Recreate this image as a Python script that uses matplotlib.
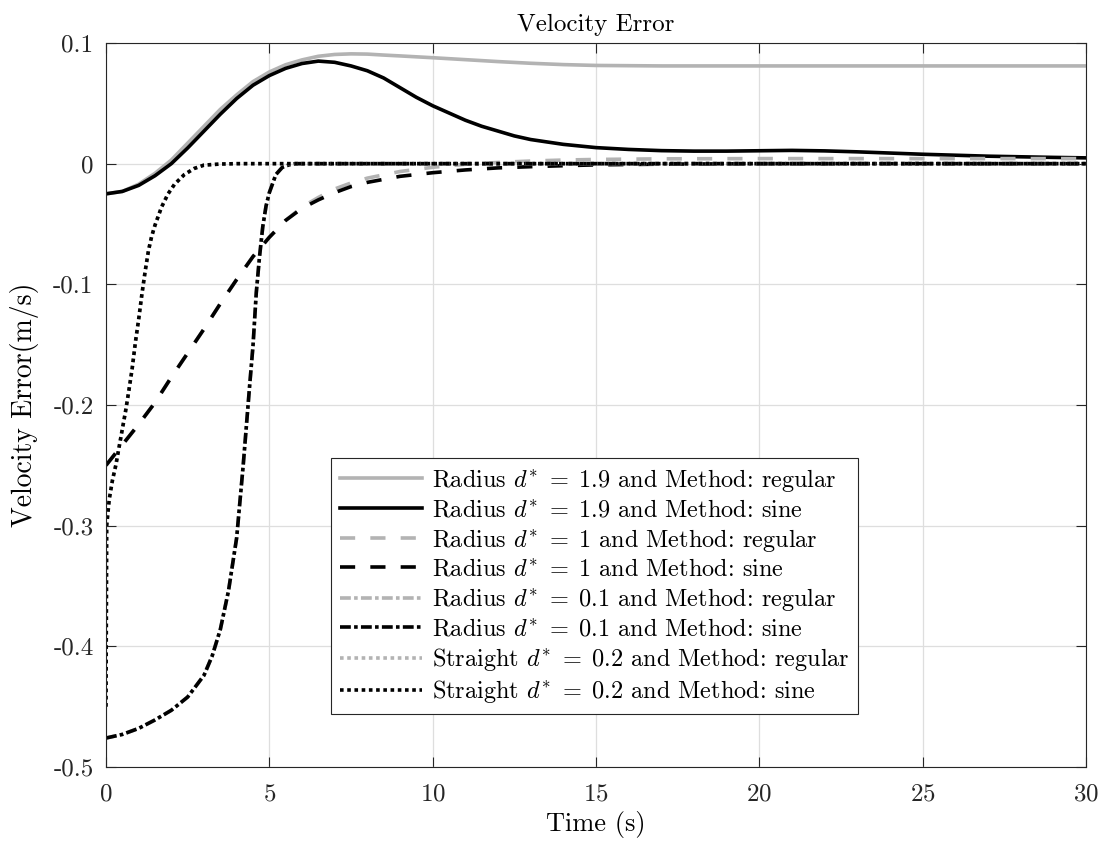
import numpy as np
import matplotlib
matplotlib.use("Agg")
import matplotlib.pyplot as plt

plt.rcParams['font.family'] = 'serif'
plt.rcParams['font.serif'] = ['cmr10']
plt.rcParams['mathtext.fontset'] = 'cm'
plt.rcParams['axes.unicode_minus'] = False
plt.rcParams['axes.formatter.use_mathtext'] = True

# values
t_r19 = [0, 0.5, 1, 1.5, 2, 2.5, 3, 3.5, 4, 4.5, 5, 5.5, 6, 6.5, 7, 7.5, 8, 8.5, 9,
         10, 11, 12, 13, 14, 15, 17, 20, 25, 30]
v_r19_regular = [-0.025, -0.023, -0.017, -0.008, 0.003, 0.017, 0.031, 0.045, 0.057, 0.068,
                 0.076, 0.082, 0.086, 0.089, 0.0905, 0.091, 0.0908, 0.0900, 0.0893,
                 0.0878, 0.0862, 0.0846, 0.0832, 0.0821, 0.0814, 0.0810, 0.0810, 0.0810, 0.0810]

t_r19s = [0, 0.5, 1, 1.5, 2, 2.5, 3, 3.5, 4, 4.5, 5, 5.5, 6, 6.5, 7, 7.5, 8, 8.5, 9, 9.5,
          10, 10.5, 11, 11.5, 12, 12.5, 13, 13.5, 14, 15, 16, 17, 18, 19, 20, 21, 22, 23,
          24, 25, 26, 27, 28, 29, 30]
v_r19_sine = [-0.025, -0.023, -0.018, -0.010, 0.000, 0.013, 0.027, 0.041, 0.054, 0.065,
              0.073, 0.079, 0.083, 0.085, 0.084, 0.081, 0.077, 0.071, 0.063, 0.055,
              0.048, 0.042, 0.036, 0.031, 0.027, 0.023, 0.020, 0.018, 0.016, 0.0133,
              0.0118, 0.0108, 0.0104, 0.0104, 0.0107, 0.0110, 0.0106, 0.0098, 0.0088,
              0.0078, 0.0070, 0.0062, 0.0057, 0.0052, 0.0048]

t_r1 = [0, 0.5, 1, 1.5, 2, 2.5, 3, 3.5, 4, 4.5, 5, 5.5, 6, 6.5, 7, 7.5, 8, 9, 10, 11,
        12, 13, 14, 15, 17, 20, 25, 30]
v_r1_regular = [-0.250, -0.233, -0.216, -0.198, -0.177, -0.157, -0.137, -0.116, -0.096,
                -0.077, -0.061, -0.047, -0.036, -0.028, -0.021, -0.016, -0.012, -0.0065,
                -0.003, -0.0005, 0.001, 0.0022, 0.003, 0.0035, 0.004, 0.0042, 0.0042, 0.0042]
v_r1_sine = [-0.250, -0.233, -0.216, -0.198, -0.177, -0.157, -0.137, -0.116, -0.096,
             -0.077, -0.061, -0.047, -0.037, -0.030, -0.024, -0.019, -0.0155, -0.0105,
             -0.0075, -0.0052, -0.0035, -0.0025, -0.0017, -0.0010, -0.0004, 0.0, 0.0, 0.0]

t_r01 = [0, 0.5, 1, 1.5, 2, 2.5, 3, 3.25, 3.5, 3.75, 4, 4.2, 4.4, 4.5, 4.6, 4.7, 4.8,
         4.9, 5.0, 5.2, 5.4, 5.6, 5.8, 6, 7, 10, 15, 20, 25, 30]
v_r01_regular = [-0.476, -0.473, -0.468, -0.461, -0.453, -0.442, -0.424, -0.408, -0.386,
                 -0.354, -0.310, -0.250, -0.183, -0.151, -0.107, -0.077, -0.052, -0.035,
                 -0.024, -0.009, -0.003, -0.001, 0.0, 0.0, 0.0, 0.0, 0.0, 0.0, 0.0, 0.0]
v_r01_sine = [-0.476, -0.473, -0.468, -0.461, -0.453, -0.442, -0.424, -0.408, -0.386,
              -0.354, -0.310, -0.250, -0.183, -0.151, -0.107, -0.077, -0.052, -0.035,
              -0.024, -0.009, -0.003, -0.001, 0.0, 0.0, 0.0, 0.0, 0.0, 0.0, 0.0, 0.0]

t_st = [0, 0.02, 0.1, 0.2, 0.3, 0.4, 0.5, 0.6, 0.7, 0.8, 0.9, 1.0, 1.1, 1.2, 1.3, 1.4,
        1.5, 1.7, 1.9, 2.1, 2.4, 2.7, 3.0, 3.5, 4, 5, 10, 20, 30]
v_st_regular = [-0.450, -0.300, -0.278, -0.262, -0.250, -0.235, -0.220, -0.205, -0.188,
                -0.170, -0.148, -0.129, -0.108, -0.089, -0.072, -0.060, -0.051, -0.036,
                -0.025, -0.017, -0.009, -0.004, -0.0012, -0.0003, 0.0, 0.0, 0.0, 0.0, 0.0]
v_st_sine = [-0.450, -0.300, -0.278, -0.262, -0.250, -0.235, -0.220, -0.205, -0.188,
             -0.170, -0.148, -0.129, -0.108, -0.089, -0.072, -0.060, -0.051, -0.036,
             -0.025, -0.017, -0.009, -0.004, -0.0012, -0.0003, 0.0, 0.0, 0.0, 0.0, 0.0]

labels = [r'Radius $d^{*}\;=\;1.9$ and Method: regular',
          r'Radius $d^{*}\;=\;1.9$ and Method: sine',
          r'Radius $d^{*}\;=\;1$ and Method: regular',
          r'Radius $d^{*}\;=\;1$ and Method: sine',
          r'Radius $d^{*}\;=\;0.1$ and Method: regular',
          r'Radius $d^{*}\;=\;0.1$ and Method: sine',
          r'Straight $d^{*}\;=\;0.2$ and Method: regular',
          r'Straight $d^{*}\;=\;0.2$ and Method: sine']

xticks = [0, 5, 10, 15, 20, 25, 30]
yticks = [-0.5, -0.4, -0.3, -0.2, -0.1, 0, 0.1]
ytick_labels = ['-0.5', '-0.4', '-0.3', '-0.2', '-0.1', '0', '0.1']

gray = '#b3b3b3'
lw = 2.6
dash = (4.2, 4.2)
dashdot = (3.0, 0.9, 1.0, 0.9)
dot = (1.0, 1.0)

fig = plt.figure(figsize=(11.1, 8.48), dpi=100)
ax = fig.add_axes([106 / 1110, 1 - 767 / 848, 980 / 1110, 724 / 848])

ax.plot(t_r19, v_r19_regular, color=gray, lw=lw, label=labels[0])
ax.plot(t_r19s, v_r19_sine, color='k', lw=lw, label=labels[1])
ax.plot(t_r1, v_r1_regular, color=gray, lw=lw, dashes=dash, label=labels[2])
ax.plot(t_r1, v_r1_sine, color='k', lw=lw, dashes=dash, label=labels[3])
ax.plot(t_r01, v_r01_regular, color=gray, lw=lw, dashes=dashdot, label=labels[4])
ax.plot(t_r01, v_r01_sine, color='k', lw=lw, dashes=dashdot, label=labels[5])
ax.plot(t_st, v_st_regular, color=gray, lw=lw, dashes=dot, label=labels[6])
ax.plot(t_st, v_st_sine, color='k', lw=lw, dashes=dot, label=labels[7])

ax.set_xlim(0, 30)
ax.set_ylim(-0.5, 0.1)
ax.set_xticks(xticks)
ax.set_yticks(yticks, labels=ytick_labels)
ax.grid(True, color='#dedede', lw=0.9)
ax.set_axisbelow(True)
ax.tick_params(direction='in', length=7, width=0.8, colors='#262626',
               top=True, right=True, labelsize=18)
ax.tick_params(axis='x', pad=12)
ax.tick_params(axis='y', pad=9)
for s in ax.spines.values():
    s.set_color('#262626')
    s.set_linewidth(0.8)

ax.set_xlabel('Time (s)', fontsize=19, labelpad=4)
ax.set_ylabel('Velocity Error(m/s)', fontsize=20, labelpad=10)
ax.set_title('Velocity Error', fontsize=18, pad=9)

leg = ax.legend(loc='lower left', bbox_to_anchor=(225 / 980, 53 / 724), borderaxespad=0,
                fontsize=17.5, handlelength=3.4, handletextpad=0.4, labelspacing=0.22,
                fancybox=False, framealpha=1, edgecolor='#262626', borderpad=0.35)
leg.get_frame().set_linewidth(0.8)

fig.savefig('out.png', dpi=100)
